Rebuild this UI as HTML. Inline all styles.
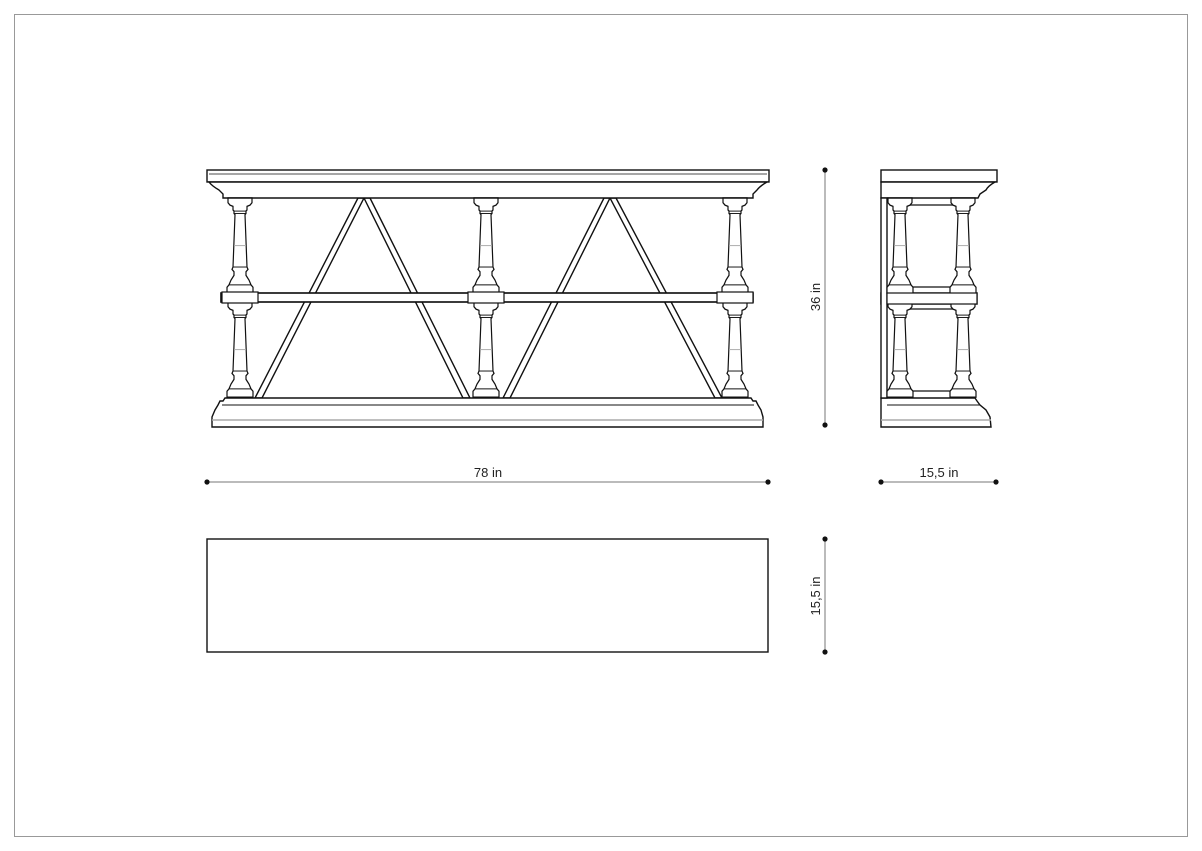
<!DOCTYPE html>
<html><head><meta charset="utf-8"><style>
html,body{margin:0;padding:0;background:#fff;}
svg{display:block;}
text{font-family:"Liberation Sans",sans-serif;font-size:13px;fill:#222;}
</style></head><body>
<svg width="1202" height="851" viewBox="0 0 1202 851" xmlns="http://www.w3.org/2000/svg">
<defs>
<g id="post" fill="#fff" stroke="#111" stroke-width="1.2">
<path d="M-12,0 L12,0 L12,4 L10,6 L7,7 L7,10 L6,11 L6,13 L5,14 L7,58 L8,60 L6,62 L6,65 L9,69 L11,73 L13,75 L13,80 L-13,80 L-13,75 L-11,73 L-9,69 L-6,65 L-6,62 L-8,60 L-7,58 L-5,14 L-6,13 L-6,11 L-7,10 L-7,7 L-10,6 L-12,4 Z"/>
<line x1="-6" y1="11" x2="6" y2="11" stroke-width="0.8"/>
<line x1="-6" y1="13" x2="6" y2="13" stroke-width="0.8"/>
<line x1="-6" y1="40" x2="6" y2="40" stroke="#aaa" stroke-width="0.8"/>
<line x1="-7" y1="58" x2="7" y2="58" stroke-width="0.8"/>
<line x1="-11" y1="73" x2="11" y2="73" stroke-width="0.8"/>
</g>
</defs>
<rect x="14.5" y="14.5" width="1173" height="822" fill="none" stroke="#999" stroke-width="1"/>

<!-- FRONT VIEW -->
<g fill="#fff" stroke="#111" stroke-width="1.4">
<polygon points="358,198 364,198 262,398 255,398"/>
<polygon points="364,198 370,198 470,398 463,398"/>
<polygon points="604,198 610,198 510,398 503,398"/>
<polygon points="610,198 616,198 722,398 715,398"/>
<rect x="221" y="293" width="532" height="9"/>
<rect x="207" y="170" width="562" height="12"/>
<path d="M209,182 L767,182 Q760,186 757,190 L753,194 L753,198 L223,198 L223,194 L219,190 Q212,186 209,182 Z"/>
<path d="M225,398 L751,398 L753,401 L756,401 L758,405 L761,410 L763,417 L763,427 L212,427 L212,417 L215,410 L218,405 L220,401 L223,401 Z"/>
</g>
<line x1="212" y1="420" x2="763" y2="420" stroke="#aaa" stroke-width="1.5"/>
<line x1="222" y1="405" x2="754" y2="405" stroke="#111" stroke-width="1"/>
<line x1="209" y1="174" x2="767" y2="174" stroke="#111" stroke-width="0.8"/>
<use href="#post" x="240" y="198" transform="scale(1,1.19)" transform-origin="240 198"/>
<use href="#post" x="240" y="302" transform="scale(1,1.19)" transform-origin="240 302"/>
<use href="#post" x="486" y="198" transform="scale(1,1.19)" transform-origin="486 198"/>
<use href="#post" x="486" y="302" transform="scale(1,1.19)" transform-origin="486 302"/>
<use href="#post" x="735" y="198" transform="scale(1,1.19)" transform-origin="735 198"/>
<use href="#post" x="735" y="302" transform="scale(1,1.19)" transform-origin="735 302"/>
<rect x="221" y="293" width="532" height="9" fill="none" stroke="#111" stroke-width="1.4"/>
<rect x="222" y="292" width="36" height="11" fill="#fff" stroke="#111" stroke-width="1.2"/>
<rect x="468" y="292" width="36" height="11" fill="#fff" stroke="#111" stroke-width="1.2"/>
<rect x="717" y="292" width="36" height="11" fill="#fff" stroke="#111" stroke-width="1.2"/>

<!-- SIDE VIEW -->
<g fill="#fff" stroke="#111" stroke-width="1.4">
<rect x="881" y="170" width="116" height="12"/>
<path d="M881,182 L995,182 Q988,186 986,190 L980,194 L978,198 L881,198 Z"/>
<rect x="881" y="293" width="96" height="11"/>
<path d="M881,398 L975,398 L977,401 L980,405 L986,410 L990,417 L991,427 L881,427 Z"/>
<rect x="881" y="198" width="6" height="200"/>
</g>
<line x1="881" y1="420" x2="991" y2="420" stroke="#aaa" stroke-width="1.5"/>
<line x1="887" y1="405" x2="980" y2="405" stroke="#111" stroke-width="1"/>
<line x1="908" y1="205" x2="956" y2="205" stroke="#111" stroke-width="1.2"/>
<line x1="908" y1="287" x2="956" y2="287" stroke="#111" stroke-width="1.2"/>
<line x1="908" y1="309" x2="956" y2="309" stroke="#111" stroke-width="1.2"/>
<line x1="908" y1="391" x2="956" y2="391" stroke="#111" stroke-width="1.2"/>
<use href="#post" x="900" y="198" transform="scale(1,1.19)" transform-origin="900 198"/>
<use href="#post" x="900" y="302" transform="scale(1,1.19)" transform-origin="900 302"/>
<use href="#post" x="963" y="198" transform="scale(1,1.19)" transform-origin="963 198"/>
<use href="#post" x="963" y="302" transform="scale(1,1.19)" transform-origin="963 302"/>
<rect x="887" y="293" width="90" height="11" fill="#fff" stroke="#111" stroke-width="1.2"/>

<!-- TOP VIEW -->
<rect x="207" y="539" width="561" height="113" fill="none" stroke="#111" stroke-width="1.4"/>

<!-- DIMENSIONS -->
<g stroke="#777" stroke-width="1">
<line x1="825" y1="170" x2="825" y2="425"/>
<line x1="207" y1="482" x2="768" y2="482"/>
<line x1="881" y1="482" x2="996" y2="482"/>
<line x1="825" y1="539" x2="825" y2="652"/>
</g>
<g fill="#111">
<circle cx="825" cy="170" r="2.6"/><circle cx="825" cy="425" r="2.6"/>
<circle cx="207" cy="482" r="2.6"/><circle cx="768" cy="482" r="2.6"/>
<circle cx="881" cy="482" r="2.6"/><circle cx="996" cy="482" r="2.6"/>
<circle cx="825" cy="539" r="2.6"/><circle cx="825" cy="652" r="2.6"/>
</g>
<text x="488" y="477" text-anchor="middle">78 in</text>
<text x="939" y="477" text-anchor="middle">15,5 in</text>
<text transform="translate(820,297) rotate(-90)" text-anchor="middle">36 in</text>
<text transform="translate(820,596) rotate(-90)" text-anchor="middle">15,5 in</text>
</svg>
</body></html>
